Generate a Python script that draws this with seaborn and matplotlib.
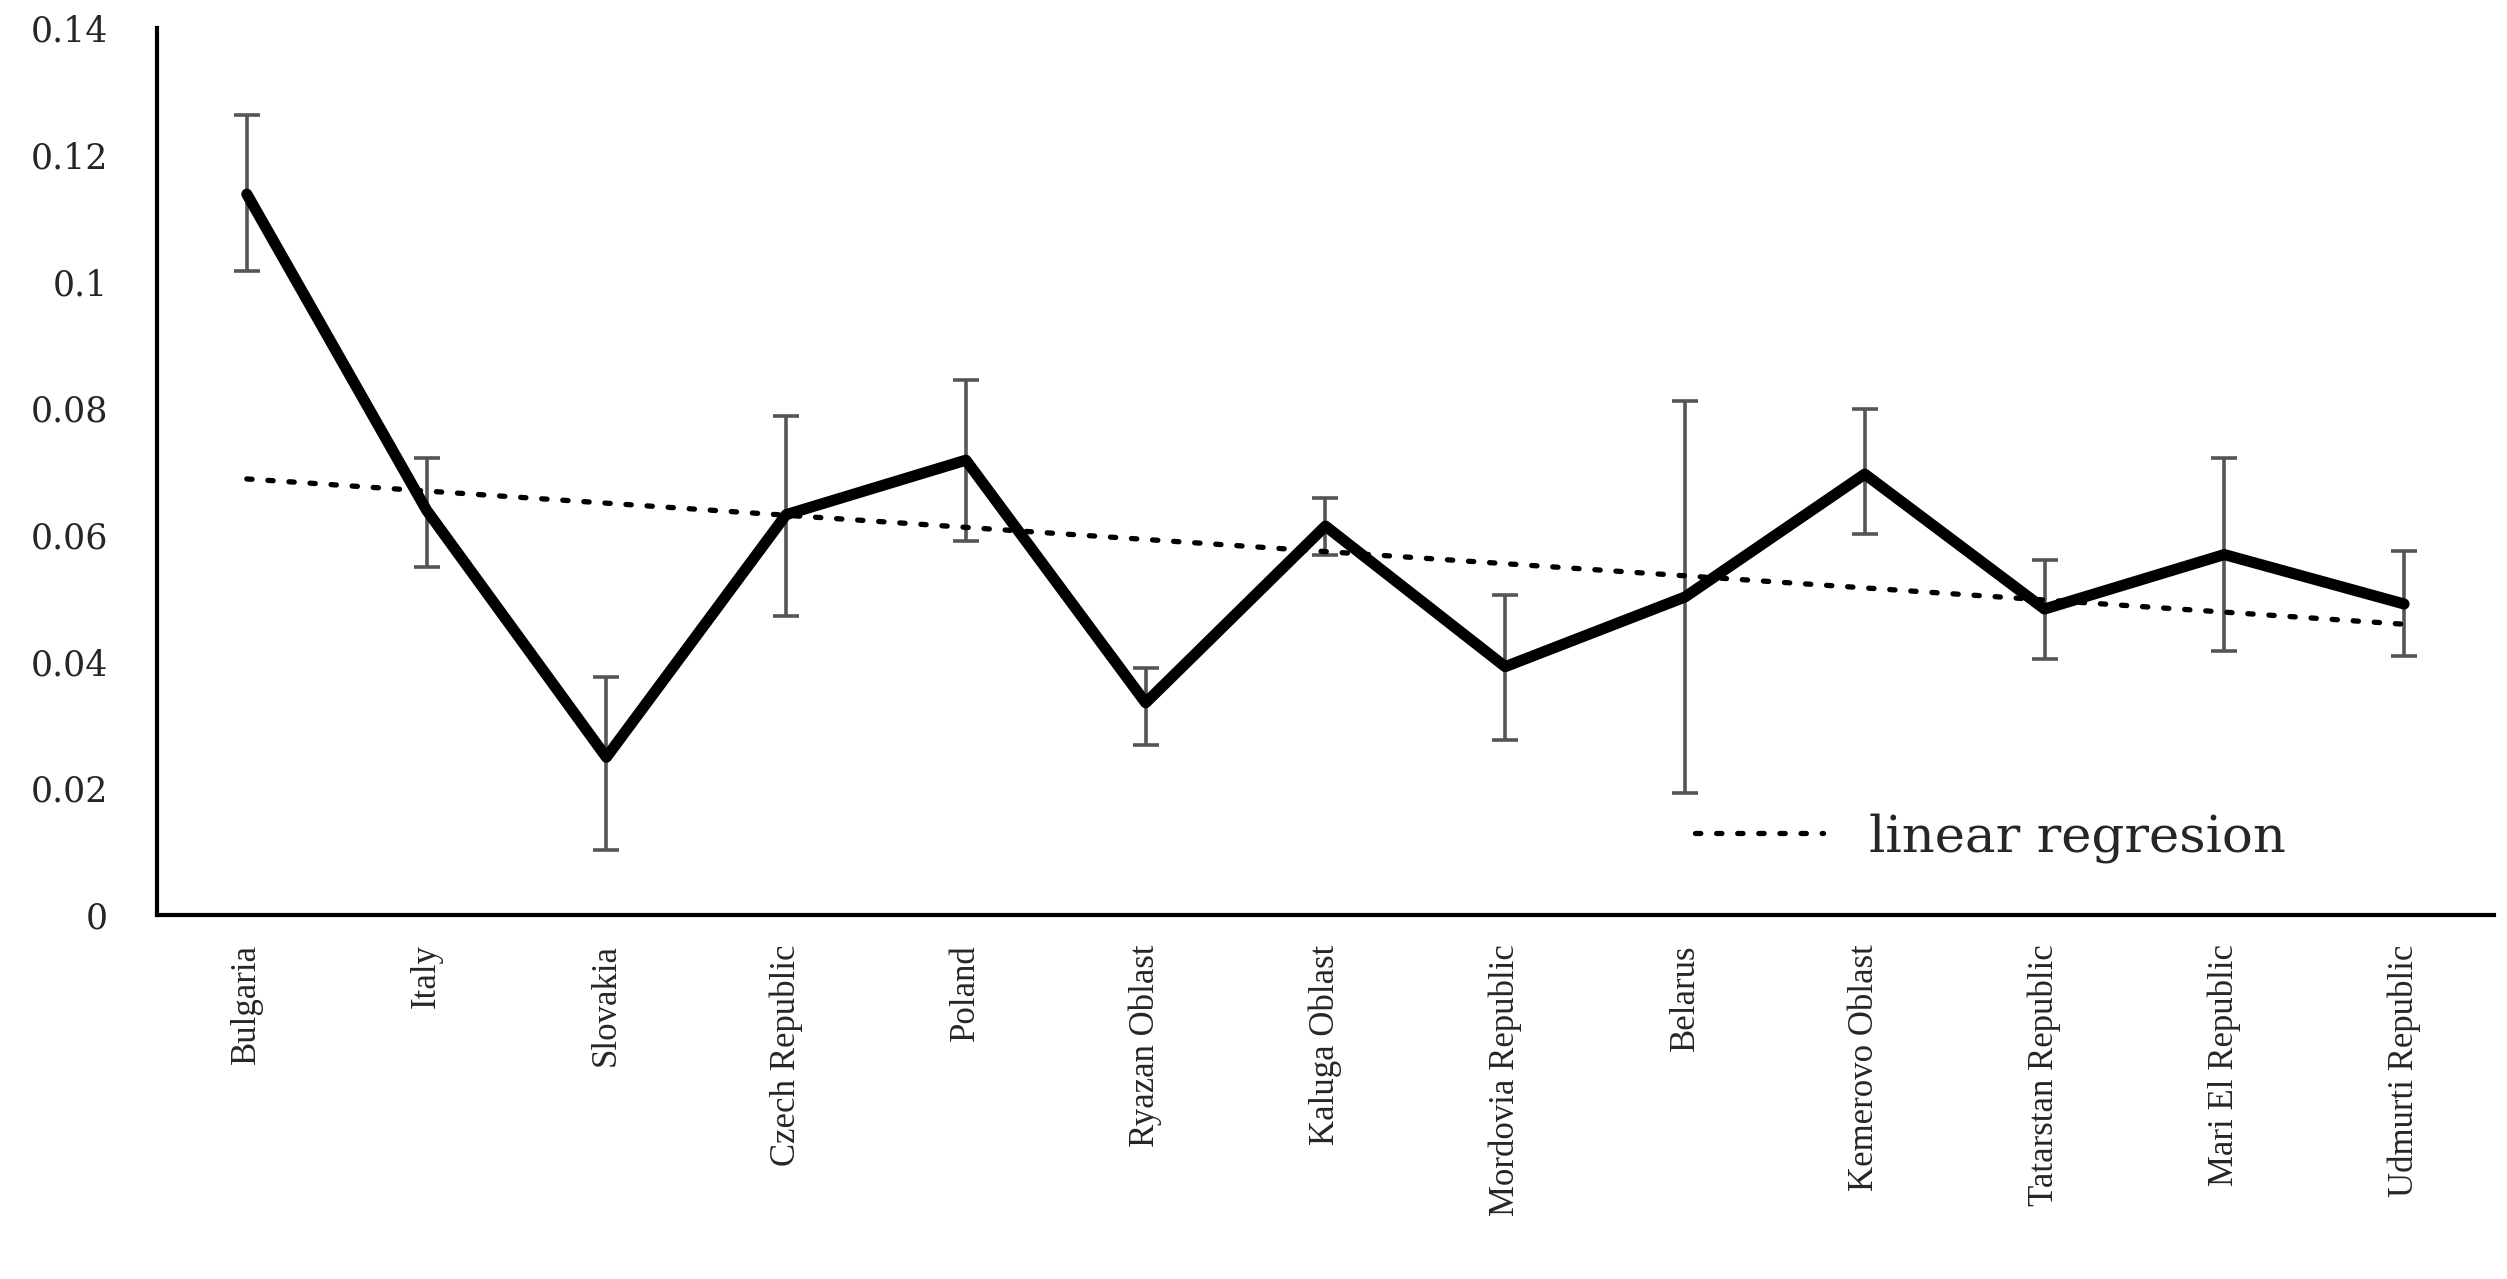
import numpy as np
import pandas as pd
import matplotlib
matplotlib.use("Agg")
import matplotlib.pyplot as plt
import seaborn as sns

regions = ["Bulgaria", "Italy", "Slovakia", "Czech Republic", "Poland",
           "Ryazan Oblast", "Kaluga Oblast", "Mordovia Republic", "Belarus",
           "Kemerovo Oblast", "Tatarstan Republic", "Mari El Republic",
           "Udmurti Republic"]
mean_vals = [0.1138, 0.0639, 0.0249, 0.0632, 0.0718, 0.0335, 0.0614,
             0.0392, 0.0502, 0.0696, 0.0483, 0.0569, 0.0491]
upper_vals = [0.1263, 0.0721, 0.0376, 0.0788, 0.0845, 0.0390, 0.0658,
              0.0505, 0.0811, 0.0798, 0.0560, 0.0721, 0.0574]
lower_vals = [0.1017, 0.0550, 0.0103, 0.0472, 0.0591, 0.0268, 0.0568,
              0.0276, 0.0193, 0.0601, 0.0404, 0.0416, 0.0409]
y_ticks = [0, 0.02, 0.04, 0.06, 0.08, 0.1, 0.12, 0.14]
y_tick_labels = ["0", "0.02", "0.04", "0.06", "0.08", "0.1", "0.12", "0.14"]
legend_label = "linear regresion"

df = pd.DataFrame({"pos": np.arange(len(regions)), "region": regions,
                   "mean": mean_vals, "upper": upper_vals, "lower": lower_vals})

sns.set_theme(style="white")
plt.rcParams["font.family"] = ["DejaVu Serif"]

fig = plt.figure(figsize=(25.07, 12.79), dpi=100)
ax = fig.add_axes([0.0626, 0.2846, 0.9322, 0.6934])

# error bars
yerr = np.vstack([df["mean"] - df["lower"], df["upper"] - df["mean"]])
ax.errorbar(df["pos"], df["mean"], yerr=yerr, fmt="none", ecolor="#555555",
            elinewidth=2.6, capsize=9.5, capthick=2.6, zorder=2)

# main line
sns.lineplot(data=df, x="pos", y="mean", sort=False, color="black",
             linewidth=8, ax=ax, zorder=3, legend=False)

# linear regression (dotted)
sns.regplot(data=df, x="pos", y="mean", scatter=False, ci=None, truncate=True,
            ax=ax, label=legend_label,
            line_kws=dict(color="black", linewidth=3.8,
                          linestyle=(0, (1, 3.0)),
                          dash_capstyle="round", zorder=4))

ax.set_xlim(-0.5, len(regions) - 0.5)
ax.set_ylim(0, 0.14)
ax.set_xticks(df["pos"])
ax.set_xticklabels(regions, rotation=90, va="top", ha="center",
                   family="Liberation Serif", fontsize=25)
ax.set_yticks(y_ticks)
ax.set_yticklabels(y_tick_labels, family="DejaVu Serif", fontsize=25)
ax.tick_params(axis="x", length=0, pad=21)
ax.tick_params(axis="y", length=0, pad=35)
ax.set_xlabel("")
ax.set_ylabel("")

for side in ["top", "right"]:
    ax.spines[side].set_visible(False)
for side in ["left", "bottom"]:
    ax.spines[side].set_color("black")
    ax.spines[side].set_linewidth(3)

leg = ax.legend(loc="center left", bbox_to_anchor=(0.658, 0.087),
                frameon=False, fontsize=37, handlelength=2.5,
                handletextpad=0.9, borderpad=0, borderaxespad=0)
for t in leg.get_texts():
    t.set_family("DejaVu Serif")

fig.savefig("out.png", dpi=100, facecolor="white")
